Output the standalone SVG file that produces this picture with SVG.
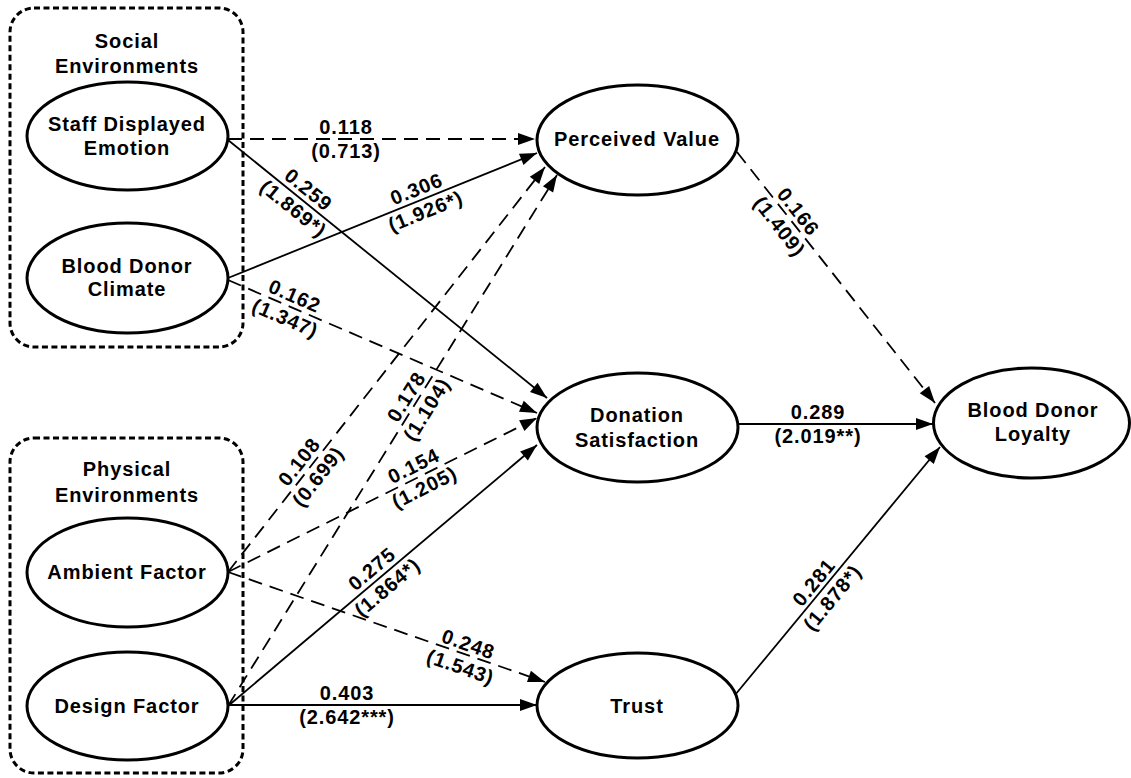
<svg xmlns="http://www.w3.org/2000/svg" width="1131" height="778" viewBox="0 0 1131 778">
<style>
  text { font-family: "Liberation Sans", Arial, Helvetica, sans-serif; font-weight: bold; font-size: 20px; letter-spacing: 0.9px; text-anchor: middle; fill: #000; }
  .node ellipse { fill: #fff; stroke: #000; stroke-width: 3; }
  .grp rect { fill: none; stroke: #000; stroke-width: 3; stroke-dasharray: 6 3.5; }
  .edge { fill: none; stroke: #000; stroke-width: 1.8; marker-end: url(#arr); }
  .dash { stroke-dasharray: 14 8; }
</style>
<defs>
  <marker id="arr" markerUnits="userSpaceOnUse" markerWidth="18" markerHeight="13" refX="17" refY="6" orient="auto" overflow="visible">
    <path d="M0,0 L17,6 L0,12 z" fill="#000" stroke="none"/>
  </marker>
</defs>
<rect width="1131" height="778" fill="#fff"/>

<g id="social-environments" class="grp">
  <rect x="10" y="8" width="233" height="339" rx="24" ry="24"/>
  <text x="127" y="48">Social</text>
  <text x="127" y="73">Environments</text>
</g>
<g id="physical-environments" class="grp">
  <rect x="10" y="438" width="233" height="335" rx="24" ry="24"/>
  <text x="127" y="476">Physical</text>
  <text x="127" y="502">Environments</text>
</g>

<g id="connectors">
  <line class="edge dash" x1="228" y1="139" x2="535" y2="139"/>
  <line class="edge" x1="228" y1="140" x2="547" y2="398"/>
  <line class="edge" x1="228" y1="278" x2="537" y2="153"/>
  <line class="edge dash" x1="228" y1="280" x2="537" y2="413"/>
  <line class="edge dash" x1="228" y1="572" x2="545" y2="167"/>
  <line class="edge dash" x1="228" y1="706" x2="557" y2="175"/>
  <line class="edge dash" x1="228" y1="572" x2="537" y2="418"/>
  <line class="edge dash" x1="228" y1="572" x2="545" y2="682"/>
  <line class="edge" x1="228" y1="706" x2="537" y2="445"/>
  <line class="edge" x1="228" y1="705" x2="537" y2="705"/>
  <line class="edge dash" x1="737" y1="152" x2="935" y2="403"/>
  <line class="edge" x1="738" y1="424" x2="933" y2="424"/>
  <line class="edge" x1="735" y1="695" x2="940" y2="447"/>

  <g transform="translate(346,139)"><text y="-5">0.118</text><text y="19">(0.713)</text></g>
  <g transform="translate(301,199) rotate(38.97)"><text y="-5">0.259</text><text y="19">(1.869*)</text></g>
  <g transform="translate(421,200) rotate(-22)"><text y="-5">0.306</text><text y="19">(1.926*)</text></g>
  <g transform="translate(290,307) rotate(23.3)"><text y="-5">0.162</text><text y="19">(1.347)</text></g>
  <g transform="translate(308.5,469) rotate(-51.96)"><text y="-5">0.108</text><text y="19">(0.699)</text></g>
  <g transform="translate(416.5,403) rotate(-58.2)"><text y="-5">0.178</text><text y="19">(1.104)</text></g>
  <g transform="translate(419,476.5) rotate(-26.6)"><text y="-5">0.154</text><text y="19">(1.205)</text></g>
  <g transform="translate(464.5,655.5) rotate(19.1)"><text y="-5">0.248</text><text y="19">(1.543)</text></g>
  <g transform="translate(379.5,578) rotate(-40.2)"><text y="-5">0.275</text><text y="19">(1.864*)</text></g>
  <g transform="translate(347,705)"><text y="-5">0.403</text><text y="19">(2.642***)</text></g>
  <g transform="translate(789,219) rotate(51.9)"><text y="-5">0.166</text><text y="19">(1.409)</text></g>
  <g transform="translate(818,424)"><text y="-5">0.289</text><text y="19">(2.019**)</text></g>
  <g transform="translate(823,590) rotate(-50.4)"><text y="-5">0.281</text><text y="19">(1.878*)</text></g>
</g>

<g id="staff-displayed-emotion" class="node">
  <ellipse cx="127.5" cy="136" rx="100.5" ry="54"/>
  <text x="127" y="131">Staff Displayed</text>
  <text x="127" y="155">Emotion</text>
</g>
<g id="blood-donor-climate" class="node">
  <ellipse cx="127.5" cy="278" rx="100.5" ry="55"/>
  <text x="127" y="273">Blood Donor</text>
  <text x="127" y="296">Climate</text>
</g>
<g id="ambient-factor" class="node">
  <ellipse cx="127.5" cy="572.5" rx="100.5" ry="54.5"/>
  <text x="127" y="579">Ambient Factor</text>
</g>
<g id="design-factor" class="node">
  <ellipse cx="127.5" cy="706" rx="100.5" ry="54"/>
  <text x="127" y="713">Design Factor</text>
</g>
<g id="perceived-value" class="node">
  <ellipse cx="637.5" cy="140" rx="100.5" ry="55"/>
  <text x="637" y="146">Perceived Value</text>
</g>
<g id="donation-satisfaction" class="node">
  <ellipse cx="637.5" cy="427.5" rx="100.5" ry="54.5"/>
  <text x="637" y="422">Donation</text>
  <text x="637" y="447">Satisfaction</text>
</g>
<g id="trust" class="node">
  <ellipse cx="637.5" cy="705.5" rx="100.5" ry="52.5"/>
  <text x="637" y="713">Trust</text>
</g>
<g id="blood-donor-loyalty" class="node">
  <ellipse cx="1031.5" cy="423" rx="98" ry="55"/>
  <text x="1033" y="417">Blood Donor</text>
  <text x="1033" y="441">Loyalty</text>
</g>
</svg>
